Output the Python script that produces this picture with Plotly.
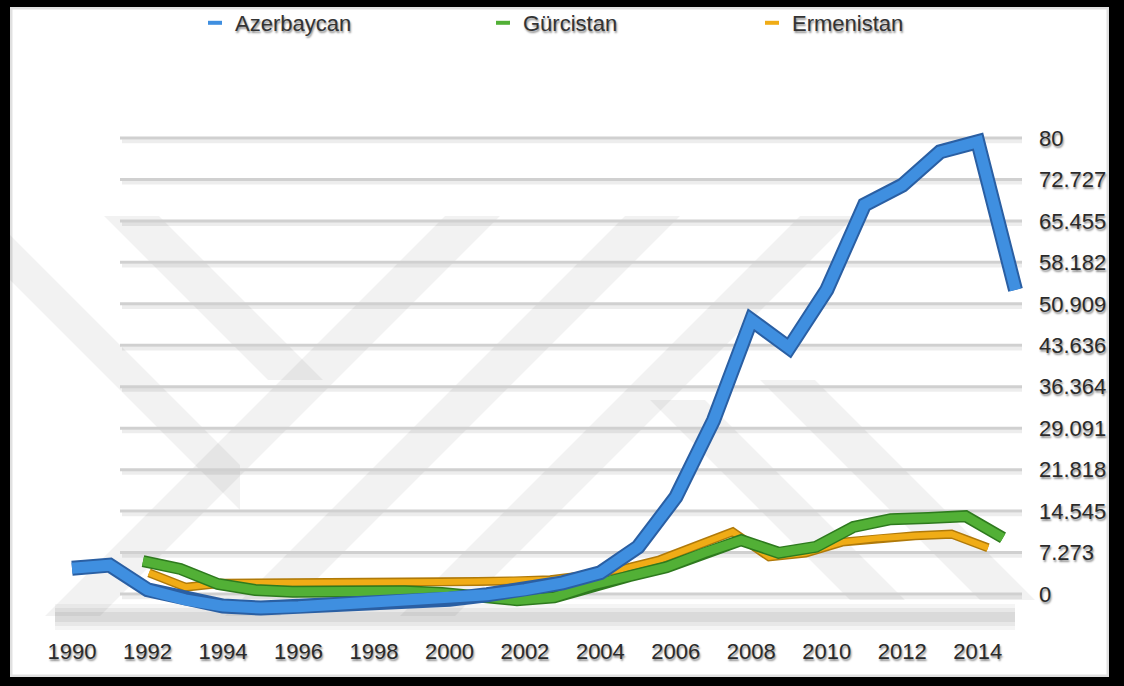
import plotly.graph_objects as go

# ---------------- data ----------------
years_az = list(range(1990, 2016))
azerbaycan = [9.0, 9.5, 5.6, 4.0, 3.0, 2.7, 2.9, 3.2, 3.5, 3.8, 4.1, 4.8, 5.6,
              6.7, 8.3, 12.4, 20.3, 32.5, 48.4, 44.0, 53.2, 66.7, 69.8, 75.1,
              76.7, 53.2]
years_ge = list(range(1992, 2016))
gurcistan = [7.8, 6.5, 4.0, 3.0, 2.7, 2.8, 3.0, 2.8, 2.5, 2.0, 1.3, 1.8, 3.8,
             5.3, 6.8, 9.2, 11.3, 9.2, 10.2, 13.5, 14.8, 15.0, 15.3, 11.7]
years_am = list(range(1992, 2016))
ermenistan = [3.7, 1.2, 1.9, 1.9, 1.9, 1.9, 1.9, 2.0, 2.1, 2.2, 2.3, 2.5, 3.3,
              4.4, 6.0, 8.4, 10.9, 6.5, 7.2, 9.1, 9.8, 10.2, 10.5, 8.1]

series_names = ["Azerbaycan", "Gürcistan", "Ermenistan"]
y_tick_labels = ["0", "7.273", "14.545", "21.818", "29.091", "36.364",
                 "43.636", "50.909", "58.182", "65.455", "72.727", "80"]
y_tick_values = [i * 80 / 11 for i in range(12)]
x_tick_values = list(range(1990, 2015, 2))

# ---------------- layout geometry ----------------
FW, FH = 1124, 686
L, R, T, B = 50, 1030, 100, 632
W, H = R - L, B - T

def px_x(px):
    return (px - L) / W

def px_y(py):
    return (B - py) / H

def xrange_from(px_a, yr_a, px_b, yr_b):
    s = (px_b - px_a) / (yr_b - yr_a)
    return [yr_a + (L - px_a) / s, yr_a + (R - px_a) / s]

def yrange_from(px0, ppu):
    return [(px0 - B) / ppu, (px0 - T) / ppu]

# depth planes of the 3-D original (front = blue, back = orange / walls)
x_front = xrange_from(72, 1990, 1015.5, 2015)
x_mid = xrange_from(143, 1992, 1003, 2015)
x_back = xrange_from(149, 1992, 988, 2015)
y_front = yrange_from(625, 6.3)
y_mid = yrange_from(608, 6.0)
y_back = yrange_from(594, 5.7)

FONT = "Arial, Liberation Sans, Helvetica, sans-serif"
SHADOW = "1px 2px 2px rgba(0,0,0,0.45)"

BLUE, BLUE_D = "#3f8fe0", "#2a5fa3"
GREEN, GREEN_D = "#52b036", "#2e7a1e"
ORANGE, ORANGE_D = "#f0ac16", "#b07a0a"

fig = go.Figure()

# back: Ermenistan (x, y)
fig.add_trace(go.Scatter(x=years_am, y=ermenistan, xaxis="x", yaxis="y",
                         mode="lines", line=dict(color=ORANGE_D, width=9),
                         showlegend=False, hoverinfo="skip"))
fig.add_trace(go.Scatter(x=years_am, y=ermenistan, xaxis="x", yaxis="y",
                         mode="lines", line=dict(color=ORANGE, width=6),
                         name=series_names[2], showlegend=False))
# middle: Gürcistan (x2, y2)
fig.add_trace(go.Scatter(x=years_ge, y=gurcistan, xaxis="x2", yaxis="y2",
                         mode="lines", line=dict(color=GREEN_D, width=12),
                         showlegend=False, hoverinfo="skip"))
fig.add_trace(go.Scatter(x=years_ge, y=gurcistan, xaxis="x2", yaxis="y2",
                         mode="lines", line=dict(color=GREEN, width=9),
                         name=series_names[1], showlegend=False))
# front: Azerbaycan (x3, y3)
fig.add_trace(go.Scatter(x=years_az, y=azerbaycan, xaxis="x3", yaxis="y3",
                         mode="lines", line=dict(color=BLUE_D, width=15),
                         showlegend=False, hoverinfo="skip"))
fig.add_trace(go.Scatter(x=years_az, y=azerbaycan, xaxis="x3", yaxis="y3",
                         mode="lines", line=dict(color=BLUE, width=11),
                         name=series_names[0], showlegend=False))

# legend entries (short bar swatches), one legend per entry
for name, col, lg in zip(series_names, [BLUE, GREEN, ORANGE],
                         ["legend", "legend2", "legend3"]):
    fig.add_trace(go.Scatter(x=[None], y=[None], mode="markers", name=name,
                             marker=dict(symbol="line-ew", size=10,
                                         line=dict(width=4, color=col)),
                             legend=lg, showlegend=True, hoverinfo="skip"))

shapes = []
# watermark stripes (decoration)
wm = "rgba(0,0,0,0.05)"
stripes = [
    [(104, 216), (159, 216), (323, 380), (268, 380)],
    [(0, 225), (240, 465), (240, 510), (0, 270)],
    [(45, 616), (100, 616), (500, 216), (445, 216)],
    [(225, 616), (280, 616), (680, 216), (625, 216)],
    [(400, 616), (455, 616), (855, 216), (800, 216)],
    [(650, 400), (705, 400), (905, 600), (850, 600)],
    [(760, 380), (815, 380), (1035, 600), (980, 600)],
]
for poly in stripes:
    path = "M " + " L ".join(f"{px_x(a):.5f},{px_y(b):.5f}" for a, b in poly) + " Z"
    shapes.append(dict(type="path", xref="paper", yref="paper", path=path,
                       fillcolor=wm, line=dict(width=0), layer="below"))

# floor shadow (decoration)
for (y0, y1, a) in [(604, 630, 0.04), (608, 626, 0.05), (612, 622, 0.06)]:
    shapes.append(dict(type="rect", xref="paper", yref="paper",
                       x0=px_x(55), x1=px_x(1015), y0=px_y(y1), y1=px_y(y0),
                       fillcolor=f"rgba(0,0,0,{a})", line=dict(width=0),
                       layer="below"))

# gridlines on the back wall
for v in y_tick_values:
    shapes.append(dict(type="line", xref="paper", yref="y",
                       x0=px_x(122), x1=px_x(1022), y0=v - 0.55, y1=v - 0.55,
                       line=dict(color="rgba(0,0,0,0.07)", width=4),
                       layer="below"))
    shapes.append(dict(type="line", xref="paper", yref="y",
                       x0=px_x(120), x1=px_x(1022), y0=v, y1=v,
                       line=dict(color="#d0d0d0", width=3), layer="below"))

# black picture frame
for (x0, y0, x1, y1) in [(0, 0, 10, FH), (1109, 0, FW, FH),
                         (0, 0, FW, 7), (0, 677, FW, FH)]:
    shapes.append(dict(type="rect", xref="paper", yref="paper",
                       x0=px_x(x0), x1=px_x(x1), y0=px_y(y1), y1=px_y(y0),
                       fillcolor="black", line=dict(width=0), layer="above"))
# soft inner shadow of the frame
shapes.append(dict(type="rect", xref="paper", yref="paper",
                   x0=px_x(11), x1=px_x(1108), y0=px_y(676), y1=px_y(8),
                   fillcolor="rgba(0,0,0,0)",
                   line=dict(color="rgba(0,0,0,0.12)", width=3), layer="above"))

leg_y = px_y(23)
legend_common = dict(orientation="h", yanchor="middle", xanchor="left",
                     bgcolor="rgba(0,0,0,0)", borderwidth=0, itemwidth=30,
                     font=dict(family=FONT, size=22, color="#333333",
                               shadow=SHADOW))

fig.update_layout(
    width=FW, height=FH,
    margin=dict(l=L, r=FW - R, t=T, b=FH - B, autoexpand=False),
    paper_bgcolor="white", plot_bgcolor="rgba(0,0,0,0)",
    showlegend=True,
    legend=dict(x=px_x(195), y=leg_y, **legend_common),
    legend2=dict(x=px_x(483), y=leg_y, **legend_common),
    legend3=dict(x=px_x(752), y=leg_y, **legend_common),
    xaxis=dict(range=x_back, visible=False, fixedrange=True),
    xaxis2=dict(range=x_mid, overlaying="x", visible=False),
    xaxis3=dict(range=x_front, overlaying="x", anchor="y3", side="bottom",
                tickmode="array", tickvals=x_tick_values,
                ticktext=[str(v) for v in x_tick_values],
                showgrid=False, zeroline=False, showline=False, ticks="",
                ticklabelstandoff=4,
                tickfont=dict(family=FONT, size=22, color="#2a2a2a",
                              shadow=SHADOW)),
    yaxis=dict(range=y_back, side="right", tickmode="array",
               tickvals=y_tick_values, ticktext=y_tick_labels,
               showgrid=False, zeroline=False, showline=False, ticks="",
               ticklabelstandoff=8,
               tickfont=dict(family=FONT, size=22, color="#2a2a2a",
                             shadow=SHADOW)),
    yaxis2=dict(range=y_mid, overlaying="y", visible=False),
    yaxis3=dict(range=y_front, overlaying="y", visible=False),
    shapes=shapes,
    hovermode=False,
)

fig.write_html("out.html")
